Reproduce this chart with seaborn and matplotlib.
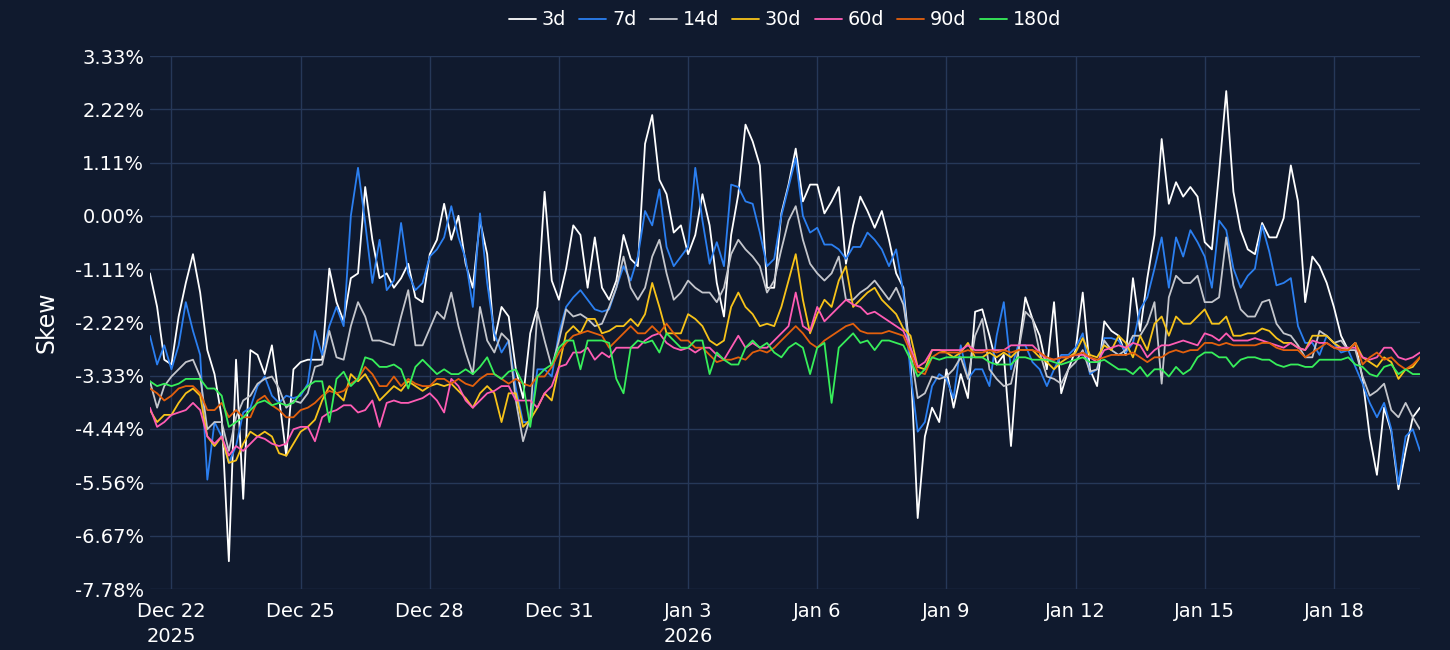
import pandas as pd
import seaborn as sns
import matplotlib.pyplot as plt

# skew (%) every 4 hours, Dec 21 12:00 -> Jan 20 00:00
start = "2025-12-21 12:00"
tenors = ["3d", "7d", "14d", "30d", "60d", "90d", "180d"]
colors = ["#ffffff", "#2b7ff0", "#c4c6cc", "#f7c31a", "#ff5cb4", "#e3600d", "#37ee5a"]

skew_3d = [
    -1.2, -1.9, -3.0,
    -3.1, -2.1, -1.4, -0.8, -1.6, -2.8,
    -3.3, -4.2, -7.2, -3.0, -5.9, -2.8,
    -2.9, -3.3, -2.7, -3.8, -5.0, -3.2,
    -3.05, -3.0, -3.0, -3.0, -1.1, -1.8,
    -2.2, -1.3, -1.2, 0.6, -0.5, -1.3,
    -1.2, -1.5, -1.3, -1.0, -1.7, -1.8,
    -0.8, -0.5, 0.25, -0.5, 0.0, -1.0,
    -1.5, -0.1, -0.8, -2.6, -1.9, -2.1,
    -3.2, -3.8, -2.45, -1.9, 0.5, -1.35,
    -1.75, -1.1, -0.2, -0.4, -1.5, -0.45,
    -1.5, -1.75, -1.35, -0.4, -0.9, -1.05,
    1.5, 2.1, 0.75, 0.45, -0.35, -0.2,
    -0.8, -0.4, 0.45, -0.2, -1.4, -2.1,
    -0.4, 0.45, 1.9, 1.55, 1.05, -1.5,
    -1.5, 0.05, 0.65, 1.4, 0.3, 0.65,
    0.65, 0.05, 0.3, 0.6, -1.0, -0.2,
    0.4, 0.1, -0.25, 0.1, -0.5, -1.2,
    -1.5, -3.0, -6.3, -4.6, -4.0, -4.3,
    -3.2, -4.0, -3.3, -3.8, -2.0, -1.95,
    -2.5, -3.1, -2.9, -4.8, -2.85, -1.7,
    -2.15, -2.5, -3.2, -1.8, -3.7, -3.2,
    -2.8, -1.6, -3.2, -3.55, -2.2, -2.4,
    -2.5, -2.9, -1.3, -2.4, -1.3, -0.4,
    1.6, 0.25, 0.7, 0.4, 0.6, 0.4,
    -0.55, -0.7, 0.9, 2.6, 0.5, -0.3,
    -0.7, -0.8, -0.15, -0.45, -0.45, -0.05,
    1.05, 0.3, -1.8, -0.85, -1.05, -1.4,
    -1.9, -2.5, -2.8, -2.65, -3.4, -4.6,
    -5.4, -4.0, -4.5, -5.7, -4.9, -4.2,
    -4.0,
]
skew_7d = [
    -2.5, -3.1, -2.7,
    -3.2, -2.7, -1.8, -2.4, -2.9, -5.5,
    -4.3, -4.6, -5.15, -4.8, -4.1, -4.0,
    -3.55, -3.35, -3.75, -3.9, -3.75, -3.8,
    -3.75, -3.5, -2.4, -2.9, -2.3, -1.9,
    -2.3, 0.0, 1.0, -0.15, -1.4, -0.5,
    -1.55, -1.35, -0.15, -1.2, -1.55, -1.4,
    -0.85, -0.7, -0.45, 0.2, -0.45, -0.9,
    -1.9, 0.05, -1.4, -2.45, -2.85, -2.6,
    -3.6, -4.3, -4.3, -3.2, -3.2, -3.35,
    -2.45, -1.9, -1.7, -1.55, -1.75, -1.95,
    -2.0, -1.95, -1.5, -1.05, -1.35, -0.85,
    0.1, -0.2, 0.55, -0.65, -1.05, -0.85,
    -0.65, 1.0, -0.1, -1.0, -0.55, -1.05,
    0.65, 0.6, 0.3, 0.25, -0.35, -1.05,
    -0.9, 0.0, 0.6, 1.2, 0.0, -0.35,
    -0.25, -0.6, -0.6, -0.7, -0.9, -0.65,
    -0.65, -0.35, -0.5, -0.7, -1.05, -0.7,
    -1.6, -3.3, -4.5, -4.3, -3.55, -3.3,
    -3.4, -3.8, -2.7, -3.4, -3.2, -3.2,
    -3.55, -2.5, -1.8, -3.2, -2.7, -2.7,
    -3.05, -3.2, -3.55, -3.2, -2.9, -2.9,
    -2.75, -2.45, -3.3, -3.2, -2.55, -2.55,
    -2.6, -2.85, -2.65, -1.95, -1.7, -1.1,
    -0.45, -1.5, -0.45, -0.85, -0.3, -0.55,
    -0.85, -1.5, -0.1, -0.3, -1.1, -1.5,
    -1.25, -1.1, -0.2, -0.75, -1.45, -1.4,
    -1.3, -2.3, -2.65, -2.65, -2.9, -2.5,
    -2.65, -2.85, -2.8, -3.15, -3.5, -3.9,
    -4.2, -3.9, -4.45, -5.6, -4.6, -4.45,
    -4.9,
]
skew_14d = [
    -3.45, -4.0, -3.55,
    -3.35, -3.2, -3.05, -3.0, -3.35, -4.45,
    -4.3, -4.3, -4.9, -4.2, -3.85, -3.75,
    -3.5, -3.4, -3.35, -3.6, -4.0, -3.85,
    -3.9, -3.7, -3.15, -3.1, -2.4, -2.95,
    -3.0, -2.3, -1.8, -2.1, -2.6, -2.6,
    -2.65, -2.7, -2.1, -1.55, -2.7, -2.7,
    -2.35, -2.0, -2.15, -1.6, -2.3, -2.85,
    -3.3, -1.9, -2.6, -2.85, -2.45, -2.6,
    -3.85, -4.7, -4.2, -2.0, -2.6, -3.15,
    -2.6, -1.95, -2.1, -2.05, -2.15, -2.3,
    -2.25, -1.9, -1.5, -0.85, -1.5, -1.75,
    -1.5, -0.85, -0.5, -1.2, -1.75, -1.6,
    -1.35, -1.5, -1.6, -1.6, -1.8, -1.5,
    -0.8, -0.5, -0.7, -0.85, -1.05, -1.6,
    -1.35, -0.7, -0.1, 0.2, -0.5, -1.0,
    -1.2, -1.35, -1.2, -0.85, -1.75, -1.75,
    -1.6, -1.5, -1.35, -1.55, -1.75, -1.5,
    -1.85, -2.8, -3.8, -3.7, -3.35, -3.4,
    -3.35, -3.2, -2.95, -3.4, -2.5, -2.15,
    -3.2, -3.4, -3.55, -3.5, -2.85, -2.0,
    -2.15, -2.85, -3.35, -3.4, -3.5, -3.2,
    -3.05, -2.8, -3.25, -3.2, -2.6, -2.8,
    -2.9, -2.8, -2.5, -2.5, -2.25, -1.8,
    -3.5, -1.7, -1.25, -1.4, -1.4, -1.25,
    -1.8, -1.8, -1.7, -0.45, -1.45, -1.95,
    -2.1, -2.1, -1.8, -1.75, -2.25, -2.45,
    -2.5, -2.7, -2.95, -2.95, -2.4, -2.5,
    -2.65, -2.6, -2.8, -2.8, -3.35, -3.75,
    -3.65, -3.5, -4.05, -4.2, -3.9, -4.2,
    -4.45,
]
skew_30d = [
    -4.05, -4.3, -4.15,
    -4.15, -3.9, -3.7, -3.6, -3.75, -4.6,
    -4.8, -4.6, -5.15, -5.1, -4.75, -4.5,
    -4.6, -4.5, -4.6, -4.95, -5.0, -4.75,
    -4.5, -4.4, -4.25, -3.85, -3.55, -3.7,
    -3.85, -3.3, -3.45, -3.3, -3.55, -3.85,
    -3.7, -3.55, -3.65, -3.45, -3.55, -3.65,
    -3.55, -3.5, -3.55, -3.5, -3.65, -3.8,
    -4.0, -3.7, -3.55, -3.7, -4.3, -3.7,
    -3.7, -4.4, -4.25, -4.0, -3.7, -3.85,
    -3.15, -2.45, -2.3, -2.45, -2.15, -2.15,
    -2.45, -2.4, -2.3, -2.3, -2.15, -2.3,
    -2.05, -1.4, -1.9, -2.45, -2.45, -2.45,
    -2.05, -2.15, -2.3, -2.6, -2.7, -2.6,
    -1.9, -1.6, -1.9, -2.05, -2.3, -2.25,
    -2.3, -1.9, -1.35, -0.8, -1.75, -2.45,
    -2.05, -1.75, -1.9, -1.35, -1.05, -1.9,
    -1.75, -1.6, -1.5, -1.75, -1.9, -2.05,
    -2.35, -2.5, -3.15, -3.2, -2.8, -2.8,
    -2.85, -2.95, -2.85, -2.65, -2.95, -2.95,
    -2.85, -2.95, -2.85, -2.95, -2.8, -2.8,
    -2.8, -2.95, -3.05, -3.2, -3.05, -2.95,
    -2.85, -2.55, -2.9, -2.95, -2.7, -2.8,
    -2.5, -2.65, -2.95, -2.5, -2.8, -2.25,
    -2.1, -2.5, -2.1, -2.25, -2.25, -2.1,
    -1.95, -2.25, -2.25, -2.1, -2.5, -2.5,
    -2.45, -2.45, -2.35, -2.4, -2.55, -2.65,
    -2.65, -2.75, -2.8, -2.5, -2.5, -2.5,
    -2.65, -2.75, -2.8, -2.65, -2.95, -3.05,
    -3.15, -2.95, -3.05, -3.4, -3.2, -3.15,
    -2.95,
]
skew_60d = [
    -4.0, -4.4, -4.3,
    -4.15, -4.1, -4.05, -3.9, -4.05, -4.6,
    -4.75, -4.6, -5.0, -4.8, -4.9, -4.75,
    -4.6, -4.65, -4.75, -4.8, -4.75, -4.45,
    -4.4, -4.4, -4.7, -4.2, -4.1, -4.05,
    -3.95, -3.95, -4.1, -4.05, -3.85, -4.4,
    -3.9, -3.85, -3.9, -3.9, -3.85, -3.8,
    -3.7, -3.85, -4.1, -3.4, -3.55, -3.85,
    -4.0, -3.85, -3.7, -3.65, -3.55, -3.55,
    -3.85, -3.85, -3.85, -4.0, -3.7, -3.55,
    -3.15, -3.1, -2.85, -2.85, -2.75, -3.0,
    -2.85, -2.95, -2.75, -2.75, -2.75, -2.75,
    -2.6, -2.5, -2.45, -2.65, -2.75, -2.8,
    -2.75, -2.85, -2.75, -2.75, -2.9, -3.0,
    -2.75, -2.5, -2.75, -2.65, -2.75, -2.75,
    -2.6, -2.45, -2.3, -1.6, -2.3, -2.4,
    -1.9, -2.2, -2.05, -1.9, -1.75, -1.85,
    -1.9, -2.05, -2.0, -2.1, -2.2, -2.3,
    -2.4, -2.75, -3.15, -3.05, -2.8, -2.8,
    -2.8, -2.8, -2.8, -2.7, -2.8, -2.8,
    -2.8, -2.8, -2.8, -2.7, -2.7, -2.7,
    -2.7, -2.85, -3.0, -3.0, -2.95, -2.95,
    -2.9, -2.9, -2.95, -3.05, -2.8, -2.75,
    -2.7, -2.75, -2.65, -2.7, -2.95, -2.8,
    -2.7, -2.7, -2.65, -2.6, -2.65, -2.7,
    -2.45, -2.5, -2.6, -2.45, -2.6, -2.6,
    -2.6, -2.55, -2.6, -2.65, -2.7, -2.75,
    -2.65, -2.75, -2.8, -2.6, -2.65, -2.65,
    -2.75, -2.75, -2.75, -2.75, -2.95, -3.0,
    -2.95, -2.75, -2.75, -2.95, -3.0, -2.95,
    -2.85,
]
skew_90d = [
    -3.6, -3.7, -3.85,
    -3.75, -3.6, -3.55, -3.55, -3.7, -4.05,
    -4.05, -3.9, -4.2, -4.05, -4.2, -4.2,
    -3.85, -3.75, -3.95, -4.05, -4.2, -4.2,
    -4.05, -4.0, -3.9, -3.75, -3.65, -3.7,
    -3.65, -3.5, -3.4, -3.15, -3.3, -3.55,
    -3.55, -3.35, -3.55, -3.4, -3.5, -3.55,
    -3.55, -3.4, -3.4, -3.5, -3.4, -3.5,
    -3.55, -3.4, -3.3, -3.3, -3.4, -3.5,
    -3.4, -3.5, -3.55, -3.35, -3.35, -3.15,
    -2.85, -2.65, -2.5, -2.45, -2.4, -2.45,
    -2.5, -2.75, -2.6, -2.45, -2.3, -2.45,
    -2.45, -2.3, -2.45, -2.25, -2.45, -2.6,
    -2.6, -2.75, -2.75, -2.9, -3.05, -3.0,
    -3.0, -2.95, -3.0, -2.85, -2.8, -2.85,
    -2.75, -2.6, -2.45, -2.3, -2.45, -2.65,
    -2.75, -2.6, -2.5, -2.4, -2.3, -2.25,
    -2.4, -2.45, -2.45, -2.45, -2.4, -2.45,
    -2.5, -2.85, -3.25, -3.3, -2.95, -2.85,
    -2.85, -2.85, -2.85, -2.8, -2.85, -2.85,
    -2.8, -2.85, -2.8, -2.85, -2.8, -2.8,
    -2.8, -2.85, -2.95, -3.0, -2.95, -2.95,
    -2.9, -2.85, -2.95, -3.0, -2.95, -2.9,
    -2.9, -2.9, -2.85, -2.95, -3.05, -2.95,
    -2.95, -2.85, -2.8, -2.85, -2.8, -2.8,
    -2.65, -2.65, -2.7, -2.65, -2.7, -2.7,
    -2.7, -2.7, -2.65, -2.65, -2.75, -2.8,
    -2.8, -2.8, -2.95, -2.85, -2.75, -2.65,
    -2.75, -2.8, -2.8, -2.65, -3.1, -2.95,
    -2.85, -3.0, -2.95, -3.1, -3.2, -3.1,
    -2.95,
]
skew_180d = [
    -3.45, -3.55, -3.5,
    -3.55, -3.5, -3.4, -3.4, -3.4, -3.6,
    -3.6, -3.75, -4.4, -4.3, -4.2, -4.05,
    -3.9, -3.85, -3.95, -3.9, -3.95, -3.9,
    -3.7, -3.55, -3.45, -3.45, -4.3, -3.4,
    -3.25, -3.55, -3.4, -2.95, -3.0, -3.15,
    -3.15, -3.1, -3.2, -3.6, -3.15, -3.0,
    -3.15, -3.3, -3.2, -3.3, -3.3, -3.2,
    -3.3, -3.15, -2.95, -3.3, -3.4, -3.25,
    -3.2, -3.5, -4.4, -3.35, -3.2, -3.1,
    -2.75, -2.6, -2.6, -3.2, -2.6, -2.6,
    -2.6, -2.65, -3.4, -3.7, -2.75, -2.6,
    -2.65, -2.6, -2.85, -2.45, -2.6, -2.75,
    -2.75, -2.6, -2.6, -3.3, -2.85, -3.0,
    -3.1, -3.1, -2.75, -2.6, -2.75, -2.65,
    -2.85, -2.95, -2.75, -2.65, -2.75, -3.3,
    -2.75, -2.65, -3.9, -2.75, -2.6, -2.45,
    -2.65, -2.6, -2.8, -2.6, -2.6, -2.65,
    -2.7, -3.0, -3.35, -3.2, -2.95, -3.0,
    -2.95, -2.95, -2.95, -2.95, -2.95, -2.95,
    -3.05, -3.1, -3.1, -3.1, -2.95, -2.95,
    -3.0, -3.0, -3.0, -3.05, -3.1, -3.05,
    -3.0, -2.95, -3.05, -3.05, -3.0, -3.1,
    -3.2, -3.2, -3.3, -3.15, -3.35, -3.2,
    -3.2, -3.35, -3.15, -3.3, -3.2, -2.95,
    -2.85, -2.85, -2.95, -2.95, -3.15, -3.0,
    -2.95, -2.95, -3.0, -3.0, -3.1, -3.15,
    -3.1, -3.1, -3.15, -3.15, -3.0, -3.0,
    -3.0, -3.0, -2.95, -3.1, -3.15, -3.3,
    -3.35, -3.15, -3.1, -3.3, -3.2, -3.3,
    -3.3,
]

y_ticks = [-7.78, -6.67, -5.56, -4.44, -3.33, -2.22, -1.11, 0.00, 1.11, 2.22, 3.33]
x_ticks = ["2025-12-22", "2025-12-25", "2025-12-28", "2025-12-31", "2026-01-03",
           "2026-01-06", "2026-01-09", "2026-01-12", "2026-01-15", "2026-01-18"]

times = pd.date_range(start, periods=len(skew_3d), freq="4h")
wide = pd.DataFrame({"time": times, "3d": skew_3d, "7d": skew_7d, "14d": skew_14d,
                     "30d": skew_30d, "60d": skew_60d, "90d": skew_90d, "180d": skew_180d})
df = wide.melt(id_vars="time", var_name="tenor", value_name="skew")

bg = "#101a2e"
grid = "#263858"
sns.set_theme(style="dark", rc={
    "figure.facecolor": bg, "axes.facecolor": bg, "axes.grid": True,
    "grid.color": grid, "grid.linewidth": 1.0,
    "text.color": "white", "xtick.color": "white", "ytick.color": "white",
    "axes.labelcolor": "white",
})
plt.rcParams["font.family"] = ["DejaVu Sans"]

fig, ax = plt.subplots(figsize=(14.5, 6.5), dpi=100)
fig.subplots_adjust(left=0.1034, right=0.9793, bottom=0.0938, top=0.9138)

sns.lineplot(data=df, x="time", y="skew", hue="tenor", hue_order=tenors,
             palette=colors, linewidth=1.3, estimator=None, ax=ax)

ax.set_xlim(times[0], times[-1])
ax.set_ylim(y_ticks[0], y_ticks[-1])
ax.set_yticks(y_ticks)
ax.set_yticklabels([f"{v:.2f}%" for v in y_ticks])

tick_dates = pd.to_datetime(x_ticks)
labels = []
prev_year = None
for d in tick_dates:
    lab = f"{d:%b} {d.day}"
    if d.year != prev_year:
        lab += f"\n{d.year}"
        prev_year = d.year
    labels.append(lab)
ax.set_xticks(tick_dates)
ax.set_xticklabels(labels, linespacing=1.4)

ax.tick_params(axis="both", length=0, labelsize=14)
ax.tick_params(axis="y", pad=4)
ax.tick_params(axis="x", pad=9)
ax.grid(True, color=grid, linewidth=1.0)
for s in ax.spines.values():
    s.set_visible(False)

ax.set_xlabel("")
ax.set_ylabel("Skew", fontsize=17, labelpad=12)

handles, labs = ax.get_legend_handles_labels()
ax.legend(handles, labs, loc="center", bbox_to_anchor=(0.5, 1.068), ncol=7,
          frameon=False, fontsize=13.8, labelcolor="white", handlelength=1.4,
          handletextpad=0.3, columnspacing=0.7)

plt.savefig("out.png", dpi=100, facecolor=bg)
